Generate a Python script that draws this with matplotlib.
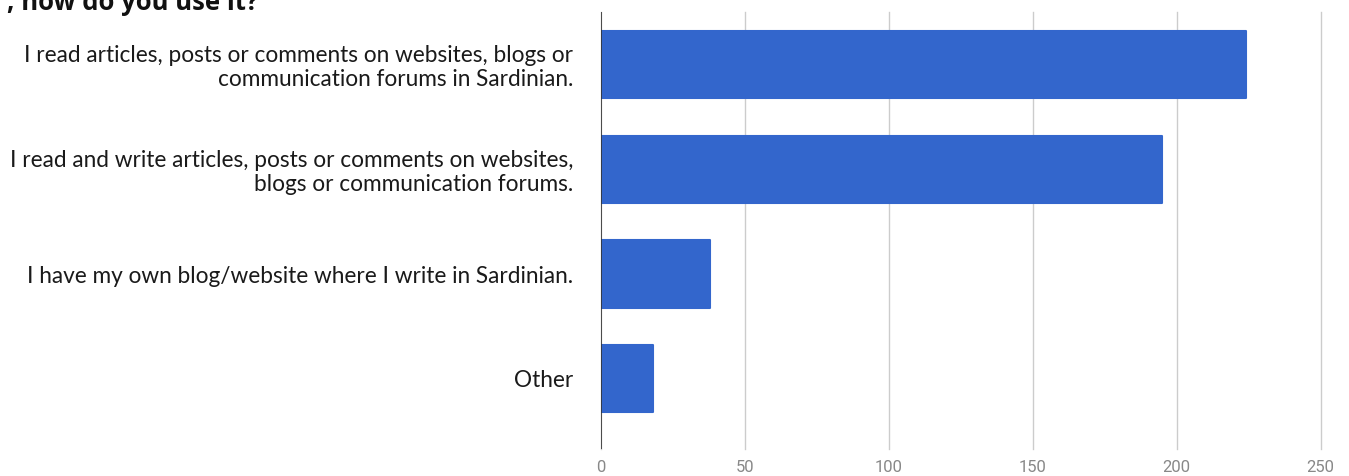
import matplotlib.pyplot as plt

# survey answers and counts
answers = [
    "I read articles, posts or comments on websites, blogs or\ncommunication forums in Sardinian.",
    "I read and write articles, posts or comments on websites,\nblogs or communication forums.",
    "I have my own blog/website where I write in Sardinian.",
    "Other",
]
counts = [224, 195, 38, 18]
x_ticks = [0, 50, 100, 150, 200, 250]
title = ", how do you use it?"

fig = plt.figure(figsize=(13.49, 4.76), dpi=100)
ax = fig.add_axes([0.4455, 0.0567, 0.5335, 0.918])

pos = list(range(len(counts)))
ax.barh(pos, counts, height=0.64, color="#3366cc", edgecolor="#3366cc",
        linewidth=1.5, joinstyle="round", zorder=3)

ax.set_xlim(0, 250)
ax.set_ylim(3.67, -0.5)
ax.set_xticks(x_ticks)
ax.set_xticklabels([str(t) for t in x_ticks], family="Roboto", fontsize=12, color="#888888")
ax.set_yticks(pos)
ax.set_yticklabels(answers, family="Lato", fontsize=16.3, color="#1a1a1a",
                   ha="right", linespacing=1.18)
ax.tick_params(axis="y", length=0, pad=20)
ax.tick_params(axis="x", length=0, pad=8)

ax.grid(axis="x", color="#cccccc", linewidth=1, zorder=0)
for gl in ax.get_xgridlines():
    gl.set_clip_on(False)
ax.axvline(0, color="#333333", linewidth=1.2, zorder=4)
for s in ax.spines.values():
    s.set_visible(False)

fig.text(258 / 1349, 1 - 10 / 476, title, ha="right", va="baseline",
         family="Open Sans", fontweight="bold", fontsize=18.5, color="#111111")

fig.savefig("out.png", dpi=100)
